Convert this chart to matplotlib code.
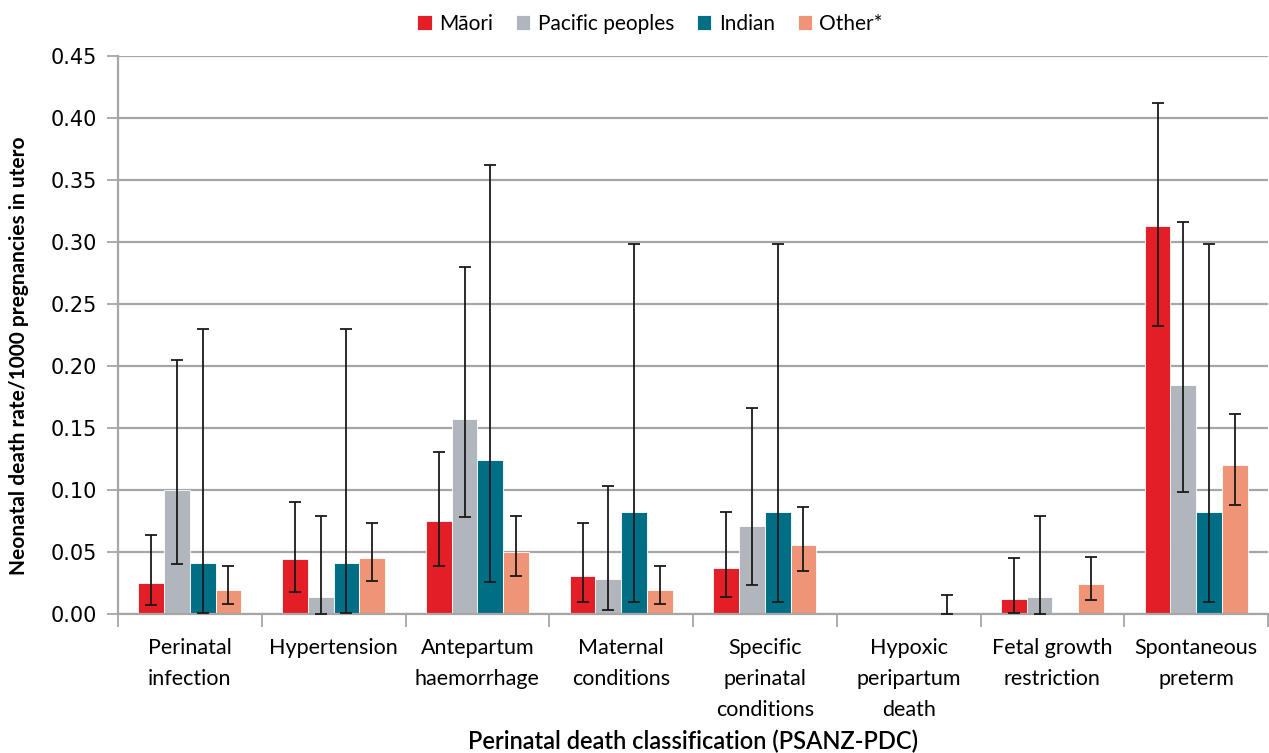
import matplotlib
matplotlib.use("Agg")
import matplotlib.pyplot as plt
import numpy as np

plt.rcParams['font.family'] = ['Lato', 'DejaVu Sans']

categories = ["Perinatal\ninfection", "Hypertension", "Antepartum\nhaemorrhage",
              "Maternal\nconditions", "Specific\nperinatal\nconditions",
              "Hypoxic\nperipartum\ndeath", "Fetal growth\nrestriction",
              "Spontaneous\npreterm"]
series_names = ["Māori", "Pacific peoples", "Indian", "Other*"]
colors = ["#E31E26", "#B0B6BC", "#006E84", "#F09478"]

# rates and 95% confidence limits per 1000 pregnancies in utero
maori = [0.025, 0.044, 0.075, 0.031, 0.037, 0.000, 0.012, 0.313]
maori_lo = [0.007, 0.018, 0.039, 0.010, 0.014, 0.000, 0.001, 0.232]
maori_hi = [0.064, 0.090, 0.131, 0.073, 0.082, 0.000, 0.045, 0.412]

pacific = [0.100, 0.014, 0.157, 0.028, 0.071, 0.000, 0.014, 0.185]
pacific_lo = [0.040, 0.000, 0.078, 0.003, 0.023, 0.000, 0.000, 0.098]
pacific_hi = [0.205, 0.079, 0.280, 0.103, 0.166, 0.000, 0.079, 0.316]

indian = [0.041, 0.041, 0.124, 0.082, 0.082, 0.000, 0.000, 0.082]
indian_lo = [0.001, 0.001, 0.026, 0.010, 0.010, 0.000, 0.000, 0.010]
indian_hi = [0.230, 0.230, 0.362, 0.298, 0.298, 0.000, 0.000, 0.298]

other = [0.019, 0.045, 0.050, 0.019, 0.056, 0.002, 0.024, 0.120]
other_lo = [0.008, 0.027, 0.031, 0.008, 0.035, 0.000, 0.011, 0.088]
other_hi = [0.039, 0.073, 0.079, 0.039, 0.086, 0.015, 0.046, 0.161]

values = [maori, pacific, indian, other]
lows = [maori_lo, pacific_lo, indian_lo, other_lo]
highs = [maori_hi, pacific_hi, indian_hi, other_hi]

y_ticks = [0.00, 0.05, 0.10, 0.15, 0.20, 0.25, 0.30, 0.35, 0.40, 0.45]

fig = plt.figure(figsize=(12.69, 7.53), dpi=100)
ax = fig.add_axes([118 / 1269, 1 - 614 / 753, 1150 / 1269, (614 - 56) / 753])

n = len(categories)
x = np.arange(n)
width = 0.179
offsets = (np.arange(4) - 1.5) * width

for i in range(4):
    v = np.array(values[i])
    lo = np.array(lows[i])
    hi = np.array(highs[i])
    ax.bar(x + offsets[i], v, width, color=colors[i], label=series_names[i],
           edgecolor="white", linewidth=0.6, zorder=2)
    has_ci = hi > 0
    ax.errorbar((x + offsets[i])[has_ci], v[has_ci],
                yerr=[(v - lo)[has_ci], (hi - v)[has_ci]],
                fmt="none", ecolor="#1a1a1a", elinewidth=1.3,
                capsize=4, capthick=1.3, zorder=3)

ax.set_xlim(-0.5, n - 0.5)
ax.set_ylim(0, 0.45)
ax.set_yticks(y_ticks)
ax.set_yticklabels([f"{t:.2f}" for t in y_ticks], fontsize=15,
                   family=["DejaVu Sans"])
ax.yaxis.grid(True, color="#A6A6A6", linewidth=1.6, zorder=0)
ax.set_axisbelow(True)

for s in ["top", "right"]:
    ax.spines[s].set_visible(False)
ax.spines["left"].set_color("#A6A6A6")
ax.spines["left"].set_linewidth(1.6)
ax.spines["bottom"].set_color("#A6A6A6")
ax.spines["bottom"].set_linewidth(1.6)
ax.tick_params(axis="y", length=8, width=1.3, color="#A6A6A6", pad=7)

ax.set_xticks(np.arange(n + 1) - 0.5, minor=True)
ax.set_xticks(x)
ax.set_xticklabels(categories, fontsize=15.5, linespacing=1.7, va="top")
ax.tick_params(axis="x", which="major", length=0, pad=17)
ax.tick_params(axis="x", which="minor", length=9, width=1.3, color="#A6A6A6")

fig.text(19 / 1269, 1 - 356 / 753,
         "Neonatal death rate/1000 pregnancies in utero",
         fontsize=15, fontweight="bold", rotation=90,
         ha="center", va="center")
fig.text(0.5 * (118 + 1268) / 1269, 1 - 741 / 753,
         "Perinatal death classification (PSANZ-PDC)",
         fontsize=17, fontweight="semibold", ha="center", va="center")

fig.legend(loc="center", bbox_to_anchor=(650 / 1269, 1 - 24 / 753), ncol=4,
           frameon=False, fontsize=15, handlelength=0.7, handleheight=0.7,
           handletextpad=0.35, columnspacing=1.1)

fig.savefig("out.png", dpi=100)
